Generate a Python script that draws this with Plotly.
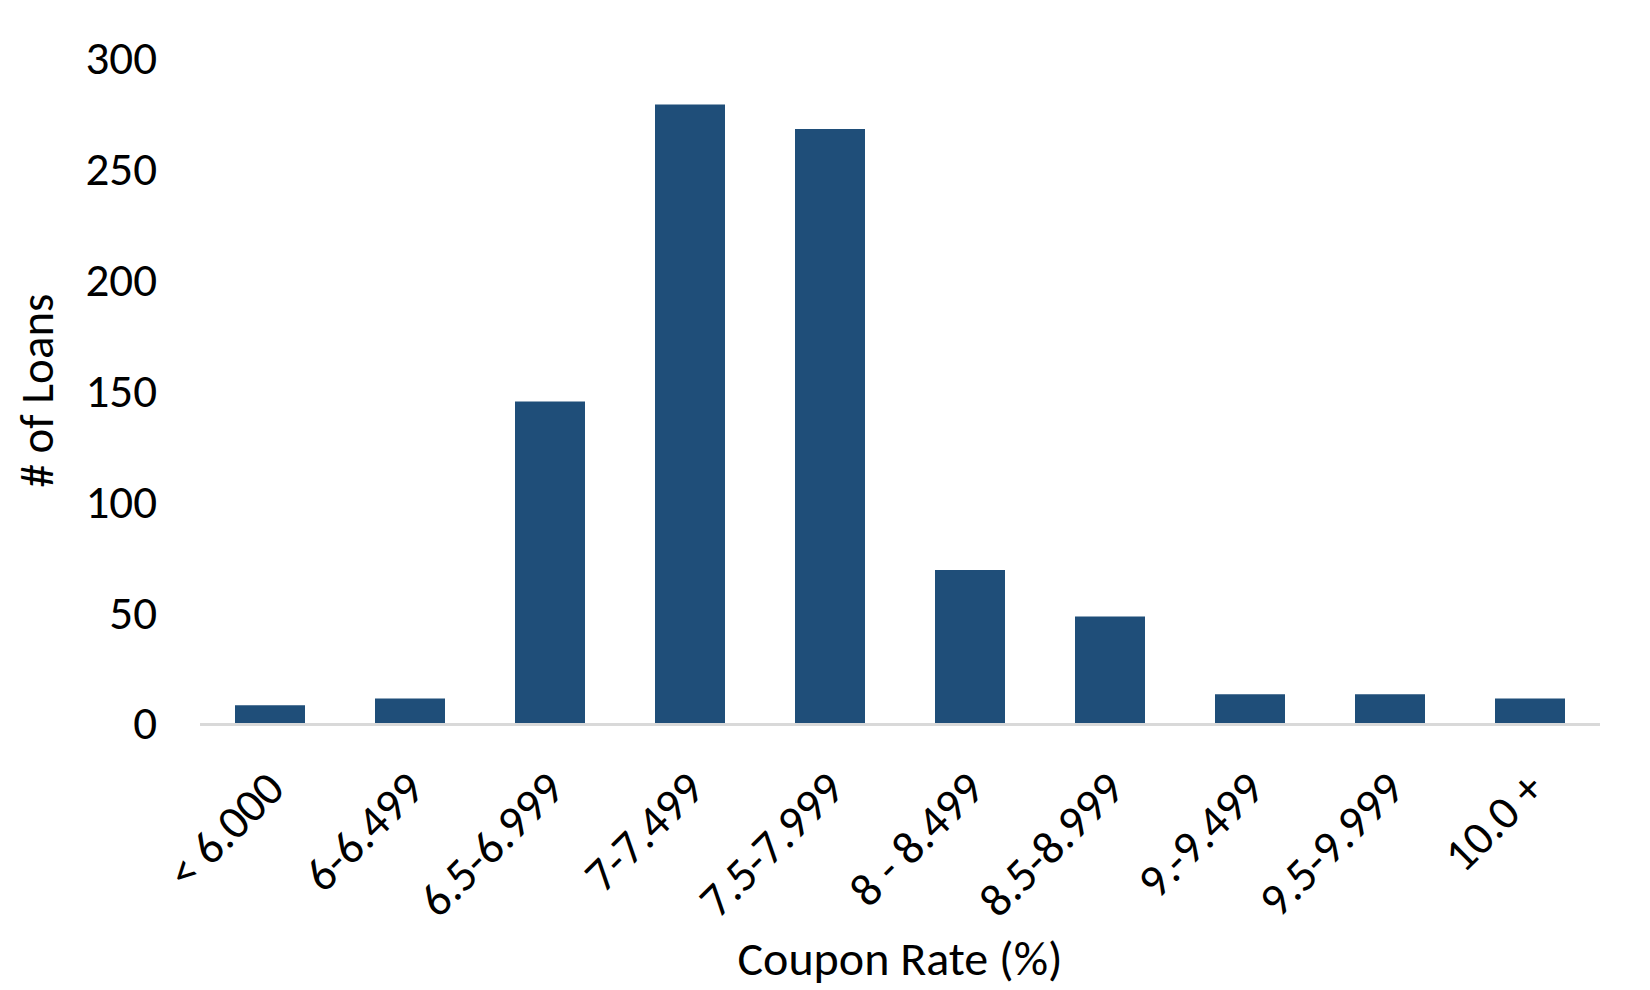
import plotly.graph_objects as go

# coupon rate buckets and loan counts
buckets = ["< 6.000", "6-6.499", "6.5-6.999", "7-7.499", "7.5-7.999",
           "8 - 8.499", "8.5-8.999", "9.-9.499", "9.5-9.999", "10.0 +"]
loan_counts = [8, 11, 145, 279, 268, 69, 48, 13, 13, 11]
y_ticks = [0, 50, 100, 150, 200, 250, 300]

font_family = "Calibri, Carlito, Lato, sans-serif"

fig = go.Figure(go.Bar(x=buckets, y=loan_counts, marker_color="#1F4E79",
                       marker_line_width=0))

fig.update_layout(
    width=1650, height=990,
    paper_bgcolor="white", plot_bgcolor="white",
    margin=dict(l=192, r=58, t=50, b=275),
    bargap=0.5,
    font=dict(family=font_family, size=47, color="black"),
    showlegend=False,
)
fig.update_xaxes(
    tickangle=-45, showgrid=False, showline=True, linecolor="#D9D9D9",
    linewidth=3, ticks="", ticklabelstandoff=16, tickfont=dict(size=47),
    title=dict(text="Coupon Rate (%)", font=dict(size=48), standoff=10),
)
fig.update_yaxes(
    range=[0, 300], tickvals=y_ticks, showgrid=False, zeroline=False,
    showline=False, ticks="", ticklabelstandoff=42, tickfont=dict(size=47),
    title=dict(text="# of Loans", font=dict(size=47), standoff=24),
)

fig.write_html("out.html")
